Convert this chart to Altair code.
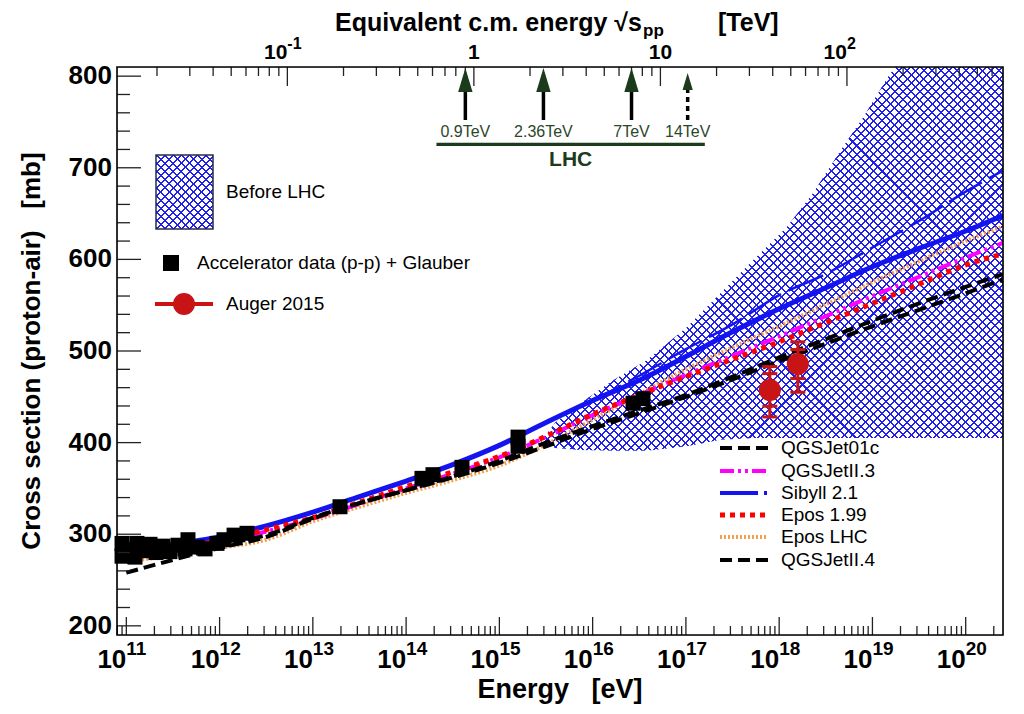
import math
import pandas as pd
import altair as alt

# ---------------- values ----------------
LOG_E = [11.0, 11.5, 12.0, 12.5, 13.0, 13.5, 14.0, 14.5, 15.0, 15.5,
         16.0, 16.5, 17.0, 17.5, 18.0, 18.5, 19.0, 19.5, 20.0, 20.4]
QGSJET01C = [258, 272, 285, 297, 317, 334, 348, 363, 380, 400,
             418, 435, 452, 472, 493, 513, 533, 552, 570, 584]
QGSJETII3 = [279, 284, 291, 303, 317, 333, 350, 366, 384, 406,
             430, 452, 474, 495, 516, 538, 560, 581, 602, 618]
SIBYLL21 = [283, 289, 297, 309, 324, 341, 358, 376, 397, 422,
            446, 468, 494, 521, 546, 569, 592, 612, 631, 648]
EPOS199 = [280, 285, 293, 305, 318, 335, 352, 368, 385, 407,
           431, 452, 472, 491, 510, 531, 552, 573, 594, 606]
EPOSLHC = [270, 277, 285, 294, 314, 330, 345, 359, 375, 398,
           425, 453, 480, 504, 527, 551, 575, 598, 620, 636]
QGSJETII4 = [276, 282, 289, 299, 318, 334, 348, 362, 378, 396,
             415, 432, 450, 469, 489, 508, 527, 545, 563, 578]
SIBYLL_DASH_LOG_E = [15.5, 16.0, 16.5, 17.0, 17.5, 18.0, 18.5, 19.0, 19.5, 20.0, 20.4]
SIBYLL_DASH = [422, 446, 473, 502, 529, 561, 584, 613, 642, 674, 697]

ACC_LOG_E = [10.954, 10.954, 11.029, 11.093, 11.114, 11.179, 11.254, 11.318,
             11.393, 11.468, 11.554, 11.629, 11.661, 11.758, 11.844, 11.972,
             12.047, 12.155, 12.294, 13.291, 14.170, 14.288, 14.599, 15.200,
             15.200, 16.433, 16.540]
ACC_XS = [276, 290, 283, 275, 290, 282, 289, 280,
          287, 281, 288, 284, 294, 286, 284, 290,
          294, 299, 301, 330, 361, 365, 373, 396,
          406, 443, 448]

AUGER_LOG_E = [17.9, 18.2]
AUGER_XS = [457.5, 485.8]
AUGER_STAT_LO = [439.7, 470.0]
AUGER_STAT_HI = [475.3, 501.6]
AUGER_TOT_LO = [428.0, 455.0]
AUGER_TOT_HI = [483.0, 510.0]

BAND_LOG_E = [15.45, 15.6, 15.87, 16.22, 16.58, 17.01, 17.37, 17.72,
              18.08, 18.36, 18.68, 18.90, 19.19, 19.25, 20.4]
BAND_UPPER = [402, 422, 443, 468, 490, 526, 563, 599,
              635, 672, 722, 755, 803, 810, 810]
BAND_LOWER = [400, 394, 392, 391, 391, 396, 403, 405,
              405, 405, 405, 405, 405, 405, 405]

LHC_TEV = [0.9, 2.36, 7.0, 14.0]
LHC_LABELS = ["0.9TeV", "2.36TeV", "7TeV", "14TeV"]
LHC_FUTURE = [0, 0, 0, 1]
LHC_RANGE_TEV = [0.63, 17.3]

BOTTOM_EXPONENTS = [11, 12, 13, 14, 15, 16, 17, 18, 19, 20]
Y_LABELS = [200, 300, 400, 500, 600, 700, 800]
TOP_LABEL_TEV = [0.1, 1.0, 10.0, 100.0]
TOP_LABEL_BASE = ["10", "1", "10", "10"]
TOP_LABEL_EXP = ["-1", "", "", "2"]

LEGEND_NAMES = ["QGSJet01c", "QGSJetII.3", "Sibyll 2.1", "Epos 1.99", "Epos LHC", "QGSJetII.4"]

# ---------------- layout / style ----------------
FONT = "Liberation Sans"
NBSP3 = "\u00a0\u00a0\u00a0"
W, H = 886, 568
LOGE_MIN, LOGE_MAX = 10.9, 20.4
XS_MIN, XS_MAX = 190, 810
MP_EV = 0.938272e9
E_MIN, E_MAX = 10 ** LOGE_MIN, 10 ** LOGE_MAX


def tev_of(e):
    return math.sqrt(2 * MP_EV * e) / 1e12


TEV_MIN, TEV_MAX = tev_of(E_MIN), tev_of(E_MAX)
PX_DEC = W / (LOGE_MAX - LOGE_MIN)
PX_MB = H / (XS_MAX - XS_MIN)

XSCALE = alt.Scale(type="log", domain=[E_MIN, E_MAX], nice=False)
TSCALE = alt.Scale(type="log", domain=[TEV_MIN, TEV_MAX], nice=False)
YSCALE = alt.Scale(domain=[XS_MIN, XS_MAX], nice=False, zero=False)
xE = alt.X("E:Q", scale=XSCALE, axis=None)
xT = alt.X("tev:Q", scale=TSCALE, axis=None)
yS = alt.Y("xs:Q", scale=YSCALE, axis=None)

HATCH = "#2020e6"
CLEAR = "rgba(255,255,255,0)"
HATCH_SPACING = 5.9
HATCH_LINE = 1.45
RED = "#c81414"
GREEN = "#1c3a1c"

STYLE = {
    "QGSJet01c": dict(color="black", strokeWidth=4, strokeDash=[12, 6]),
    "QGSJetII.3": dict(color="#ff00ff", strokeWidth=4, strokeDash=[14, 4, 3, 4, 3, 4]),
    "Sibyll 2.1": dict(color="#1414f0", strokeWidth=5),
    "Epos 1.99": dict(color="#ff0000", strokeWidth=5, strokeDash=[5, 5]),
    "Epos LHC": dict(color="#f0a050", strokeWidth=4, strokeDash=[2, 2]),
    "QGSJetII.4": dict(color="black", strokeWidth=4, strokeDash=[12, 6]),
}
LEGEND_STYLE = dict(STYLE)
LEGEND_STYLE["Sibyll 2.1"] = dict(color="#1414f0", strokeWidth=4, strokeDash=[38, 6, 3, 60])


def hatch(bw, bh, direction):
    r = bh / bw
    s = (1 + r) / (1 + r * r)
    span = (bw + bh) / math.sqrt(2)
    n = max(1, round(span / HATCH_SPACING))
    f = HATCH_LINE / (span / n)
    stops = []
    for k in range(n):
        a = round(k / n, 5)
        b = round((k + f) / n, 5)
        stops += [{"offset": a, "color": CLEAR}, {"offset": a, "color": HATCH},
                  {"offset": b, "color": HATCH}, {"offset": b, "color": CLEAR}]
    if direction == "down":
        c = dict(x1=0, y1=1, x2=s, y2=1 - s * r)
    else:
        c = dict(x1=0, y1=0, x2=s, y2=s * r)
    return {"gradient": "linear", "stops": stops, **c}


one = pd.DataFrame({"k": [0]})


def text(t, x, y, size=19, weight="normal", align="left", baseline="middle", color="black", angle=0):
    kw = dict(text=t, font=FONT, fontSize=size, fontWeight=weight, align=align,
              baseline=baseline, color=color)
    if angle:
        kw["angle"] = angle
    return alt.Chart(one).mark_text(**kw).encode(x=alt.value(x), y=alt.value(y))


bottom = []

# hatched band
band = pd.DataFrame({"E": [10 ** v for v in BAND_LOG_E], "up": BAND_UPPER, "lo": BAND_LOWER})
bw = (max(BAND_LOG_E) - min(BAND_LOG_E)) * PX_DEC
bh = (max(BAND_UPPER) - min(BAND_LOWER)) * PX_MB
for d in ("down", "up"):
    bottom.append(alt.Chart(band).mark_area(fill=hatch(bw, bh, d), strokeWidth=0).encode(
        x=xE, y=alt.Y("up:Q", scale=YSCALE, axis=None), y2="lo:Q"))


def model_line(log_e, xs, style):
    d = pd.DataFrame({"E": [10 ** v for v in log_e], "xs": xs})
    return alt.Chart(d).mark_line(interpolate="monotone", clip=True, **style).encode(x=xE, y=yS)


bottom.append(model_line(SIBYLL_DASH_LOG_E, SIBYLL_DASH,
                         dict(color="#1414f0", strokeWidth=2.5, strokeDash=[38, 8])))
series = {"QGSJet01c": QGSJET01C, "QGSJetII.3": QGSJETII3, "Sibyll 2.1": SIBYLL21,
          "Epos 1.99": EPOS199, "Epos LHC": EPOSLHC, "QGSJetII.4": QGSJETII4}
for name in ["Sibyll 2.1", "Epos LHC", "QGSJetII.3", "Epos 1.99", "QGSJetII.4", "QGSJet01c"]:
    bottom.append(model_line(LOG_E, series[name], STYLE[name]))

# accelerator data
acc = pd.DataFrame({"E": [10 ** v for v in ACC_LOG_E], "xs": ACC_XS})
bottom.append(alt.Chart(acc).mark_point(shape="square", filled=True, size=225, color="black",
                                        opacity=1).encode(x=xE, y=yS))

# Auger
aug = pd.DataFrame({"E": [10 ** v for v in AUGER_LOG_E], "xs": AUGER_XS,
                    "slo": AUGER_STAT_LO, "shi": AUGER_STAT_HI,
                    "tlo": AUGER_TOT_LO, "thi": AUGER_TOT_HI})
bottom.append(alt.Chart(aug).mark_rule(color=RED, strokeWidth=3).encode(
    x=xE, y=alt.Y("tlo:Q", scale=YSCALE, axis=None), y2="thi:Q"))
for f in ["slo", "shi", "tlo", "thi"]:
    bottom.append(alt.Chart(aug).mark_tick(orient="horizontal", size=15, thickness=3, color=RED,
                                           opacity=1).encode(
        x=xE, y=alt.Y(f + ":Q", scale=YSCALE, axis=None)))
bottom.append(alt.Chart(aug).mark_point(shape="circle", filled=True, size=484, color=RED,
                                        opacity=1).encode(x=xE, y=yS))

# ticks (inward) bottom & left
maj_b = pd.DataFrame({"E": [10.0 ** k for k in BOTTOM_EXPONENTS]})
min_b = pd.DataFrame({"E": [m * 10.0 ** k for k in range(10, 21) for m in range(2, 10)
                            if E_MIN <= m * 10.0 ** k <= E_MAX]})
bottom.append(alt.Chart(maj_b).mark_rule(color="#222", strokeWidth=1.3).encode(
    x=xE, y=alt.value(H), y2=alt.value(H - 18)))
bottom.append(alt.Chart(min_b).mark_rule(color="#222", strokeWidth=1.3).encode(
    x=xE, y=alt.value(H), y2=alt.value(H - 9)))
maj_l = pd.DataFrame({"xs": Y_LABELS})
min_l = pd.DataFrame({"xs": [v for v in range(200, 801, 20) if v % 100]})
bottom.append(alt.Chart(maj_l).mark_rule(color="#222", strokeWidth=1.3).encode(
    y=yS, x=alt.value(0), x2=alt.value(24)))
bottom.append(alt.Chart(min_l).mark_rule(color="#222", strokeWidth=1.3).encode(
    y=yS, x=alt.value(0), x2=alt.value(13)))

# tick labels bottom & left
bl = pd.DataFrame({"E": [10.0 ** k for k in BOTTOM_EXPONENTS], "base": ["10"] * len(BOTTOM_EXPONENTS),
                   "exp": [str(k) for k in BOTTOM_EXPONENTS]})
bottom.append(alt.Chart(bl).mark_text(font=FONT, fontSize=26, fontWeight="bold", align="right",
                                      baseline="alphabetic", color="black").encode(
    x=xE, y=alt.value(H + 33), text="base:N"))
bottom.append(alt.Chart(bl).mark_text(font=FONT, fontSize=19, fontWeight="bold", align="left",
                                      baseline="alphabetic", color="black").encode(
    x=xE, y=alt.value(H + 20), text="exp:N"))
yl = pd.DataFrame({"xs": Y_LABELS, "lab": [str(v) for v in Y_LABELS]})
bottom.append(alt.Chart(yl).mark_text(font=FONT, fontSize=26, fontWeight="bold", align="right",
                                      baseline="middle", color="black").encode(
    y=yS, x=alt.value(-5), text="lab:N"))

# axis titles
bottom.append(text("Energy" + NBSP3 + "[eV]", W / 2, H + 63, size=27, weight="bold",
                   align="center", baseline="alphabetic"))
bottom.append(text("Cross section (proton-air)" + NBSP3 + "[mb]", -77, H / 2, size=26,
                   weight="bold", align="center", baseline="alphabetic", angle=270))
bottom.append(text("Equivalent c.m. energy \u221as", 218, -36, size=25, weight="bold",
                   baseline="alphabetic"))
bottom.append(text("pp", 526, -31, size=17, weight="bold", baseline="alphabetic"))
bottom.append(text("[TeV]", 601, -36, size=25, weight="bold", baseline="alphabetic"))

# left legend
bottom.append(alt.Chart(one).mark_rect(fill=hatch(57, 74, "down"), strokeWidth=0).encode(
    x=alt.value(39), x2=alt.value(96), y=alt.value(88), y2=alt.value(162)))
bottom.append(alt.Chart(one).mark_rect(fill=hatch(57, 74, "up"), stroke="#2a2a4a",
                                       strokeWidth=1.5).encode(
    x=alt.value(39), x2=alt.value(96), y=alt.value(88), y2=alt.value(162)))
bottom.append(text("Before LHC", 109, 125))
bottom.append(alt.Chart(one).mark_point(shape="square", filled=True, size=256, color="black",
                                        opacity=1).encode(x=alt.value(54), y=alt.value(196)))
bottom.append(text("Accelerator data (p-p) + Glauber", 80, 196))
bottom.append(alt.Chart(one).mark_rule(color=RED, strokeWidth=4).encode(
    x=alt.value(38), x2=alt.value(96), y=alt.value(237)))
bottom.append(alt.Chart(one).mark_point(shape="circle", filled=True, size=484, color=RED,
                                        opacity=1).encode(x=alt.value(67), y=alt.value(237)))
bottom.append(text("Auger 2015", 109, 237))

# right legend
rows = [381, 404, 426, 448, 470, 493]
for name, yy in zip(LEGEND_NAMES, rows):
    bottom.append(alt.Chart(one).mark_rule(**LEGEND_STYLE[name]).encode(
        x=alt.value(603), x2=alt.value(651), y=alt.value(yy)))
    bottom.append(text(name, 664, yy))

# ---------------- top (sqrt s) layers ----------------
top = []
maj_t = pd.DataFrame({"tev": TOP_LABEL_TEV})
min_t = pd.DataFrame({"tev": [m * 10.0 ** k for k in range(-2, 3) for m in range(2, 10)
                              if TEV_MIN <= m * 10.0 ** k <= TEV_MAX]})
top.append(alt.Chart(maj_t).mark_rule(color="#222", strokeWidth=1.3).encode(
    x=xT, y=alt.value(0), y2=alt.value(19)))
top.append(alt.Chart(min_t).mark_rule(color="#222", strokeWidth=1.3).encode(
    x=xT, y=alt.value(0), y2=alt.value(9)))
tl = pd.DataFrame({"tev": TOP_LABEL_TEV, "base": TOP_LABEL_BASE, "exp": TOP_LABEL_EXP})
top.append(alt.Chart(tl).transform_filter("datum.exp == ''").mark_text(
    font=FONT, fontSize=21, fontWeight="bold", align="center", baseline="alphabetic",
    color="black").encode(x=xT, y=alt.value(-8), text="base:N"))
top.append(alt.Chart(tl).transform_filter("datum.exp != ''").mark_text(
    font=FONT, fontSize=21, fontWeight="bold", align="right", baseline="alphabetic",
    color="black").encode(x=xT, y=alt.value(-8), text="base:N"))
top.append(alt.Chart(tl).transform_filter("datum.exp != ''").mark_text(
    font=FONT, fontSize=16, fontWeight="bold", align="left", baseline="alphabetic",
    color="black").encode(x=xT, y=alt.value(-18), text="exp:N"))

arr = pd.DataFrame({"tev": LHC_TEV, "lab": LHC_LABELS, "fut": LHC_FUTURE})
top.append(alt.Chart(arr).transform_filter("datum.fut == 0").mark_rule(
    color="black", strokeWidth=3.5).encode(x=xT, y=alt.value(53), y2=alt.value(22)))
top.append(alt.Chart(arr).transform_filter("datum.fut == 1").mark_rule(
    color="black", strokeWidth=3.5, strokeDash=[5, 4]).encode(x=xT, y=alt.value(53), y2=alt.value(20)))
top.append(alt.Chart(arr).transform_filter("datum.fut == 0").mark_point(
    shape="M0,-1L0.6,1L-0.6,1Z", filled=True, size=576, color=GREEN, opacity=1).encode(
    x=xT, y=alt.value(13)))
top.append(alt.Chart(arr).transform_filter("datum.fut == 1").mark_point(
    shape="M0,-1L0.6,1L-0.6,1Z", filled=True, size=289, color=GREEN, opacity=1).encode(
    x=xT, y=alt.value(14.5)))
top.append(alt.Chart(arr).mark_text(font=FONT, fontSize=16, align="center", baseline="middle",
                                    color="#2c462c").encode(x=xT, y=alt.value(64.5), text="lab:N"))
lhc = pd.DataFrame({"tev": [LHC_RANGE_TEV[0]], "tev2": [LHC_RANGE_TEV[1]],
                    "mid": [math.sqrt(LHC_RANGE_TEV[0] * LHC_RANGE_TEV[1])]})
top.append(alt.Chart(lhc).mark_rule(color=GREEN, strokeWidth=3.3).encode(
    x=xT, x2="tev2:Q", y=alt.value(77.3)))
top.append(alt.Chart(lhc).mark_text(text="LHC", font=FONT, fontSize=21, fontWeight="bold",
                                    align="center", baseline="middle", color=GREEN).encode(
    x=alt.X("mid:Q", scale=TSCALE, axis=None), y=alt.value(92.5)))

# frame
top.append(alt.Chart(one).mark_rect(filled=False, stroke="black", strokeWidth=1.6).encode(
    x=alt.value(0), x2=alt.value(W), y=alt.value(0), y2=alt.value(H)))

chart = alt.layer(alt.layer(*bottom), alt.layer(*top)).resolve_scale(x="independent").properties(
    width=W, height=H,
    autosize=alt.AutoSizeParams(type="none"),
    padding={"left": 109, "top": 59, "right": 10, "bottom": 69},
).configure_view(stroke="black", strokeWidth=1.5).configure(background="white")

chart.save("out.html", embed_options={"renderer": "svg", "actions": False})
